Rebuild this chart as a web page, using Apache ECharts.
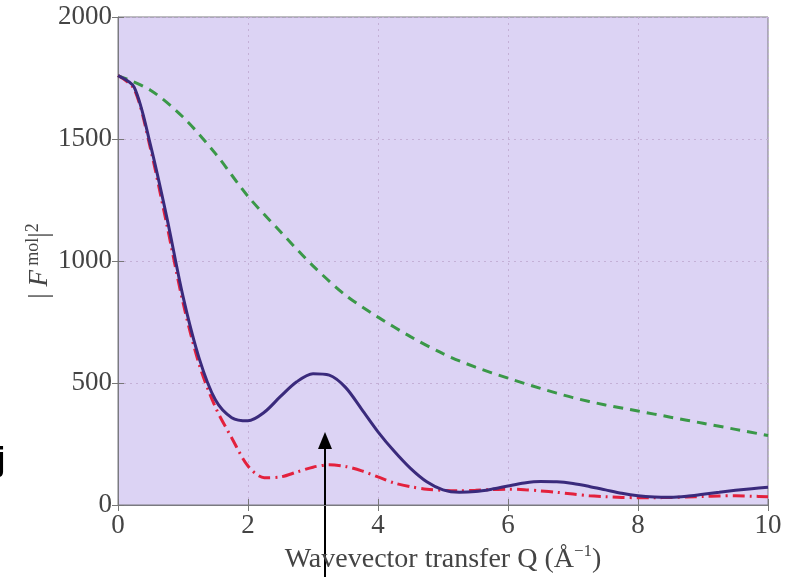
<!DOCTYPE html>
<html lang='en'>
<head>
  <meta charset='UTF-8'>
  <title>|F mol|^2 vs Q</title>
  <script src="https://cdn.jsdelivr.net/npm/echarts@6/dist/echarts.min.js"></script>
  <style>
    html, body { margin: 0; padding: 0; width: 100%; height: 100%; background: #fff; }
    #chart { width: 797px; height: 577px; }
  </style>
</head>
<body>
  <div id="chart"></div>
  <script>
    // wavevector transfer Q (1/A)
    const qFine = [0, 0.25, 0.5, 0.75, 1, 1.25, 1.5, 1.75, 2, 2.25, 2.5, 2.75, 3, 3.25, 3.5, 3.75,
      4, 4.25, 4.5, 4.75, 5, 5.25, 5.5, 5.75, 6, 6.25, 6.5, 6.75, 7, 7.25, 7.5, 7.75,
      8, 8.25, 8.5, 8.75, 9, 9.25, 9.5, 9.75, 10]
    const qCoarse = [0, 0.5, 1, 1.5, 2, 2.5, 3, 3.5, 4, 4.5, 5, 5.5, 6, 6.5, 7, 7.5, 8, 8.5, 9, 9.5, 10]

    // solid curve
    const solidVals = [1760, 1712, 1475, 1180, 855, 600, 430, 358, 345, 380, 445, 505, 538, 532, 482, 392,
      300, 220, 150, 95, 62, 52, 55, 65, 78, 90, 96, 95, 88, 76, 62, 48,
      38, 33, 32, 36, 44, 52, 60, 67, 73]
    // dash-dot curve
    const dashDotVals = [1760, 1705, 1460, 1150, 830, 575, 400, 275, 160, 112, 115, 135, 155, 165, 158, 140,
      115, 90, 75, 65, 60, 58, 60, 63, 65, 63, 58, 52, 45, 38, 34, 31,
      30, 30, 31, 33, 35, 37, 38, 36, 34]
    // dashed curve
    const dashedVals = [1760, 1700, 1590, 1440, 1265, 1120, 980, 860, 770, 690, 620, 565, 520, 478, 440, 410,
      385, 360, 335, 310, 285]

    const xTicks = ['0', '2', '4', '6', '8', '10']
    const yTicks = ['0', '500', '1000', '1500', '2000']

    const serif = '"Liberation Serif", "DejaVu Serif", serif'
    const zip = (xs, ys) => xs.map((x, i) => [x, ys[i]])

    const chart = echarts.init(document.getElementById('chart'))

    const tickStyle = { inside: true, length: 6, lineStyle: { color: '#777', width: 1 } }
    const gridLine = { show: true, lineStyle: { color: '#c4b0d6', type: [2, 4], width: 1 } }

    chart.setOption({
      animation: false,
      grid: {
        left: 118, right: 29, top: 17, bottom: 72,
        outerBoundsMode: 'none',
        containLabel: false,
        show: true,
        backgroundColor: '#dcd3f4',
        borderColor: '#7a7a80',
        borderWidth: 1
      },
      xAxis: [
        {
          type: 'value', min: 0, max: 10, interval: 2,
          axisLine: { show: true, lineStyle: { color: '#7a7a80' } },
          axisTick: tickStyle,
          axisLabel: {
            fontFamily: serif, fontSize: 27, color: '#444', margin: 7,
            formatter: v => xTicks[v / 2]
          },
          splitLine: gridLine,
          name: 'Wavevector transfer Q (Å{sup|−1})',
          nameLocation: 'middle',
          nameGap: 38,
          nameMoveOverlap: false,
          nameTextStyle: {
            fontFamily: serif, fontSize: 28, color: '#444', lineHeight: 34,
            rich: { sup: { fontFamily: serif, fontSize: 17, color: '#444', verticalAlign: 'top', lineHeight: 34 } }
          }
        },
        {
          type: 'value', min: 0, max: 10, interval: 2, position: 'top',
          axisLine: { show: false },
          axisTick: tickStyle,
          axisLabel: { show: false },
          splitLine: { show: false }
        }
      ],
      yAxis: [
        {
          type: 'value', min: 0, max: 2000, interval: 500,
          axisLine: { show: true, lineStyle: { color: '#7a7a80' } },
          axisTick: tickStyle,
          axisLabel: {
            fontFamily: serif, fontSize: 27, color: '#444', margin: 6,
            formatter: v => yTicks[v / 500]
          },
          splitLine: gridLine,
          name: '{bar|| }{f|F}{sup| mol}{bar||}{sup|2}',
          nameLocation: 'middle',
          nameRotate: 90,
          nameGap: 62,
          nameMoveOverlap: false,
          nameTextStyle: {
            color: '#444', lineHeight: 32,
            rich: {
              bar: { fontFamily: serif, fontSize: 27, color: '#444', lineHeight: 32 },
              f: { fontFamily: serif, fontSize: 27, fontStyle: 'italic', color: '#444', lineHeight: 32 },
              sup: { fontFamily: serif, fontSize: 18, color: '#444', verticalAlign: 'top', lineHeight: 32 }
            }
          }
        },
        {
          type: 'value', min: 0, max: 2000, interval: 500, position: 'right',
          axisLine: { show: false },
          axisTick: tickStyle,
          axisLabel: { show: false },
          splitLine: { show: false }
        }
      ],
      series: [
        {
          type: 'line', smooth: 0.3, showSymbol: false, silent: true,
          data: zip(qCoarse, dashedVals),
          lineStyle: { color: '#3a9848', width: 3, type: [10, 7] }
        },
        {
          type: 'line', smooth: 0.3, showSymbol: false, silent: true,
          data: zip(qFine, dashDotVals),
          lineStyle: { color: '#e3213d', width: 3, type: [12, 5, 2, 5] }
        },
        {
          type: 'line', smooth: 0.3, showSymbol: false, silent: true,
          data: zip(qFine, solidVals),
          lineStyle: { color: '#3a2a7c', width: 3 }
        }
      ],
      graphic: [
        // stray letter at the cropped left edge
        {
          type: 'text', left: -4, top: 444,
          style: { text: 'j', font: 'bold 34px "Liberation Sans", Arial, sans-serif', fill: '#000' }
        },
        // annotation arrow
        {
          type: 'line', shape: { x1: 325, y1: 577, x2: 325, y2: 445 },
          style: { stroke: '#000', lineWidth: 2 }
        },
        {
          type: 'polygon', shape: { points: [[325, 432], [318, 449], [332, 449]] },
          style: { fill: '#000' }
        }
      ]
    })
  </script>
</body>
</html>
